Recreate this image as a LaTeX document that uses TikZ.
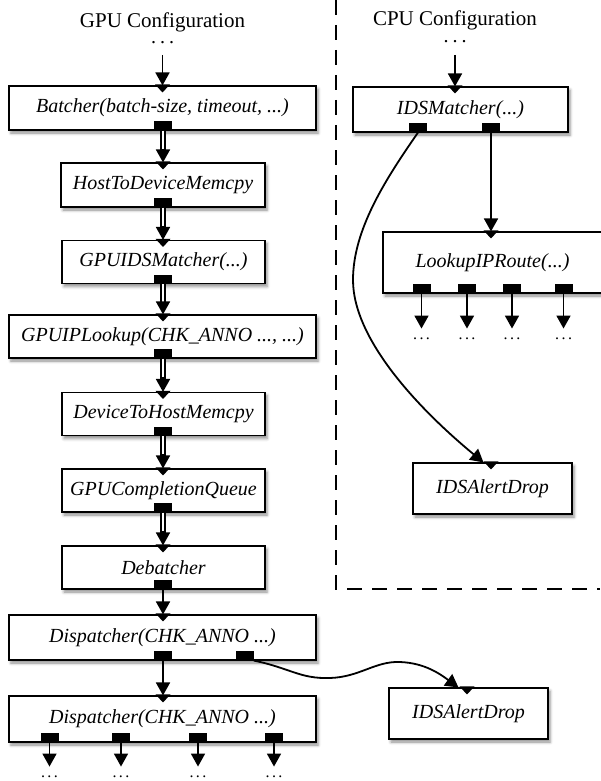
\documentclass[tikz,border=0pt]{standalone}
\usepackage{fontspec}
\setmainfont{Liberation Serif}
\usetikzlibrary{arrows.meta,calc,shadows.blur}
\newcommand\mydots[1]{\smash{.\kern#1.\kern#1.}}
\newcommand\inport[1]{\fill (#1) ++(-7.5,-1) -- ++(15,0) -- ++(-7.5,8) -- cycle;}
\newcommand\dblarrow[2]{%
  \draw[line width=6.5pt, shorten >=12pt] (#1) -- (#2);
  \draw[white, line width=2.5pt, shorten >=12pt] (#1) -- (#2);
  \draw[arr, shorten <=18pt] (#1) -- (#2);}
\begin{document}
\begin{tikzpicture}[x=1pt,y=-1pt,
  box/.style={draw, line width=1.1pt, fill=white, inner sep=0pt,
    font=\fontsize{20}{24}\selectfont\itshape,
    blur shadow={shadow xshift=2pt, shadow yshift=-3pt, shadow blur radius=3pt, shadow opacity=45}},
  outport/.style={fill=black, inner sep=0pt, minimum width=18pt, minimum height=9pt, anchor=south},
  arr/.style={line width=1.8pt, -{Triangle[width=14pt,length=13pt]}},
  title/.style={font=\fontsize{21}{25}\selectfont, anchor=base},
  dotsn/.style={font=\fontsize{20}{24}\selectfont, anchor=base, inner sep=0pt},
  sdots/.style={font=\fontsize{16}{20}\selectfont, anchor=base, inner sep=0pt},
  sep/.style={line width=1.8pt, dash pattern=on 15pt off 10pt},
]
\useasboundingbox (0,0) rectangle (600,781);

% separator
\draw[sep] (336,0) -- (336,589) -- (600,589);

% ---------- GPU ----------
\node[title] (gput) at (162.5,28) {GPU Configuration};
\node[dotsn] (gdots) at (162.5,43.5) {\mydots{4pt}};
\coordinate (gsrc) at (162.5,55);

\node[box, minimum width=307pt, minimum height=44pt] (batcher) at (162.5,108) {Batcher(batch-size, timeout, ...)};
\node[box, minimum width=204pt, minimum height=44pt] (h2d) at (163,185) {HostToDeviceMemcpy};
\node[box, minimum width=203pt, minimum height=43pt] (gids) at (163.5,262) {GPUIDSMatcher(...)};
\node[box, minimum width=307pt, minimum height=43pt] (giplk) at (162.5,336.5) {GPUIPLookup(CHK\_ANNO ..., ...)};
\node[box, minimum width=203pt, minimum height=43pt] (d2h) at (163.5,414) {DeviceToHostMemcpy};
\node[box, minimum width=203pt, minimum height=43pt] (gcq) at (163.5,490.5) {GPUCompletionQueue};
\node[box, minimum width=203pt, minimum height=43pt] (debatch) at (163.5,567.5) {Debatcher};
\node[box, minimum width=307pt, minimum height=45pt] (disp1) at (162.5,637.5) {Dispatcher(CHK\_ANNO ...)};
\node[box, minimum width=307pt, minimum height=46pt] (disp2) at (162.5,719) {Dispatcher(CHK\_ANNO ...)};

\node[outport] (bp) at ($(batcher.south)+(0.5,0)$) {};
\node[outport] (hp) at (h2d.south) {};
\node[outport] (gp) at ($(gids.south)-(0.5,0)$) {};
\node[outport] (lp1) at ($(giplk.south)+(0.5,0)$) {};
\node[outport] (dp) at ($(d2h.south)-(0.5,0)$) {};
\node[outport] (cp) at ($(gcq.south)-(0.5,0)$) {};
\node[outport] (dbp) at ($(debatch.south)-(0.5,0)$) {};
\node[outport] (dp1) at ($(disp1.south)+(0.5,0)$) {};
\node[outport] (dp2) at ($(disp1.south)+(82,0)$) {};
\node[outport] (q1) at ($(disp2.south)+(-113,0)$) {};
\node[outport] (q2) at ($(disp2.south)+(-41.5,0)$) {};
\node[outport] (q3) at ($(disp2.south)+(35.5,0)$) {};
\node[outport] (q4) at ($(disp2.south)+(111.5,0)$) {};

\draw[arr] (gsrc) -- (gsrc |- batcher.north);
\dblarrow{bp.south}{bp.south |- h2d.north}
\dblarrow{hp.south}{hp.south |- gids.north}
\dblarrow{gp.south}{gp.south |- giplk.north}
\dblarrow{lp1.south}{lp1.south |- d2h.north}
\dblarrow{dp.south}{dp.south |- gcq.north}
\dblarrow{cp.south}{cp.south |- debatch.north}
\draw[arr] (dbp.south) -- (dbp.south |- disp1.north);
\draw[arr] (dp1.south) -- (dp1.south |- disp2.north);

\inport{gsrc |- batcher.north}
\inport{bp.south |- h2d.north}
\inport{hp.south |- gids.north}
\inport{gp.south |- giplk.north}
\inport{lp1.south |- d2h.north}
\inport{dp.south |- gcq.north}
\inport{cp.south |- debatch.north}
\inport{dbp.south |- disp1.north}
\inport{dp1.south |- disp2.north}

\foreach \p in {q1,q2,q3,q4}{
  \coordinate (\p e) at ($(\p.south)+(0,24)$);
  \draw[arr] (\p.south) -- (\p e);
  \node[sdots] at ($(\p.south)+(0,35)$) {\mydots{2.5pt}};
}

% GPU-side alert drop
\node[box, minimum width=159pt, minimum height=51pt] (alert2) at (468.5,713.5) {IDSAlertDrop};
\draw[arr] (dp2.south east) .. controls (290,668) and (300,679) .. (330,678)
  .. controls (360,677) and (375,661) .. (400,662)
  .. controls (425,663) and (440,674) .. ($(alert2.north)+(-10,0)$);
\inport{$(alert2.north)+(-1.5,0)$}

% ---------- CPU ----------
\node[title] (cput) at (455,26) {CPU Configuration};
\node[dotsn] (cdots) at (455,43) {\mydots{4pt}};
\coordinate (csrc) at (455,55);

\node[box, minimum width=215pt, minimum height=45pt] (idsm) at (460.5,109.5) {IDSMatcher(...)};
\node[outport] (lp) at ($(idsm.south)+(-42.5,0)$) {};
\node[outport] (rp) at ($(idsm.south)+(30.5,0)$) {};
\draw[arr] (csrc) -- (csrc |- idsm.north);
\inport{csrc |- idsm.north}

\node[box, minimum width=219pt, minimum height=61pt] (lookup) at (492.5,262.5) {LookupIPRoute(...)};
\draw[arr] (rp.south) -- (rp.south |- lookup.north);
\inport{rp.south |- lookup.north}
\node[outport] (r1) at ($(lookup.south)+(-71,0)$) {};
\node[outport] (r2) at ($(lookup.south)+(-25.5,0)$) {};
\node[outport] (r3) at ($(lookup.south)+(19.5,0)$) {};
\node[outport] (r4) at ($(lookup.south)+(71,0)$) {};
\foreach \p in {r1,r2,r3,r4}{
  \coordinate (\p e) at ($(\p.south)+(0,35)$);
  \draw[arr] (\p.south) -- (\p e);
  \node[sdots] at ($(\p.south)+(0,46)$) {\mydots{2.5pt}};
}

\node[box, minimum width=159pt, minimum height=51pt] (alert1) at (492.5,488.5) {IDSAlertDrop};
\draw[arr] (lp.south) .. controls (385,180) and (353,230) .. (353,280)
  .. controls (353,340) and (420,410) .. ($(alert1.north)+(-9,0)$);
\inport{$(alert1.north)+(-1.5,0)$}
\end{tikzpicture}
\end{document}
